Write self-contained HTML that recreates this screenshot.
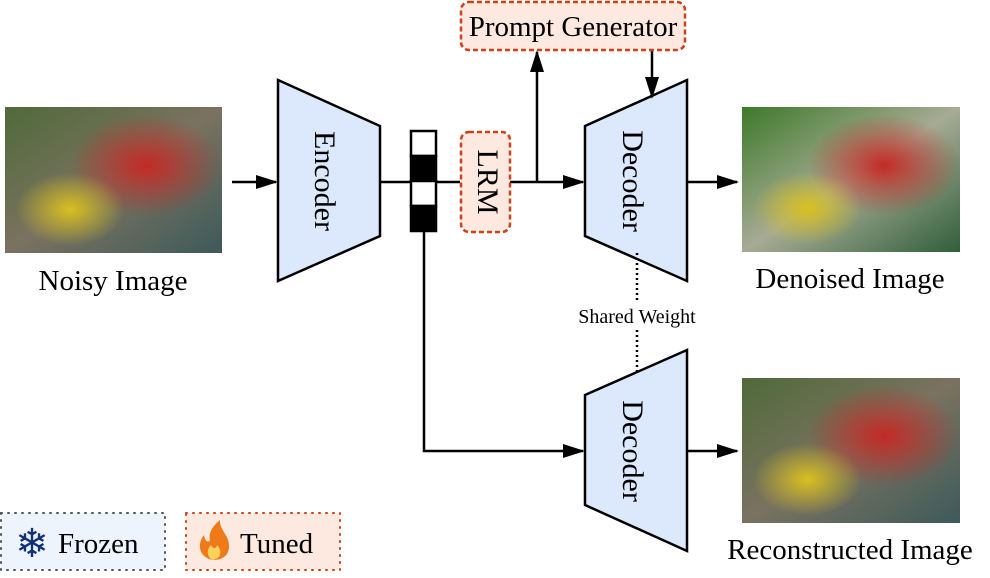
<!DOCTYPE html>
<html><head><meta charset="utf-8"><style>
body{margin:0;background:#fff;width:990px;height:573px;overflow:hidden;font-family:"Liberation Serif",serif}
</style></head><body>
<svg width="990" height="573" viewBox="0 0 990 573" xmlns="http://www.w3.org/2000/svg">
<defs>
<marker id="b" markerWidth="22" markerHeight="14" refX="20" refY="7" orient="auto" markerUnits="userSpaceOnUse"><path d="M0,0 L22,7 L0,14 Z" fill="#000"/></marker>
<radialGradient id="r1" cx="0.65" cy="0.4" r="0.35"><stop offset="0" stop-color="#c42a26"/><stop offset="1" stop-color="#c42a26" stop-opacity="0"/></radialGradient>
<radialGradient id="y1" cx="0.3" cy="0.7" r="0.25"><stop offset="0" stop-color="#d8c020"/><stop offset="1" stop-color="#d8c020" stop-opacity="0"/></radialGradient>
<linearGradient id="bg1" x1="0" y1="0" x2="1" y2="1"><stop offset="0" stop-color="#4f6a3a"/><stop offset="0.5" stop-color="#7a7260"/><stop offset="1" stop-color="#3d5a5a"/></linearGradient>
<linearGradient id="bg2" x1="0" y1="0" x2="1" y2="1"><stop offset="0" stop-color="#3c7a2a"/><stop offset="0.5" stop-color="#a7ab94"/><stop offset="1" stop-color="#2f5f3a"/></linearGradient>
</defs>
<g>
<rect x="5" y="107" width="217" height="146" fill="url(#bg1)"/>
<rect x="5" y="107" width="217" height="146" fill="url(#r1)"/>
<rect x="5" y="107" width="217" height="146" fill="url(#y1)"/>
<rect x="742" y="107" width="218" height="145" fill="url(#bg2)"/>
<rect x="742" y="107" width="218" height="145" fill="url(#r1)"/>
<rect x="742" y="107" width="218" height="145" fill="url(#y1)"/>
<rect x="742" y="378" width="218" height="145" fill="url(#bg1)"/>
<rect x="742" y="378" width="218" height="145" fill="url(#r1)"/>
<rect x="742" y="378" width="218" height="145" fill="url(#y1)"/>
</g>
<g font-size="29" text-anchor="middle" fill="#000">
<text x="113" y="290">Noisy Image</text>
<text x="850" y="288">Denoised Image</text>
<text x="850" y="559">Reconstructed Image</text>
</g>
<polygon points="278,80 380,126 380,236 278,281" fill="#dce8fb" stroke="#000" stroke-width="2.5"/>
<text transform="translate(322,181) rotate(90)" font-size="30" text-anchor="middle" dominant-baseline="middle">Encoder</text>
<polygon points="585,126 687,80 687,281 585,236" fill="#dce8fb" stroke="#000" stroke-width="2.5"/>
<text transform="translate(630,181) rotate(90)" font-size="30" text-anchor="middle" dominant-baseline="middle">Decoder</text>
<polygon points="585,395 687,350 687,551 585,505" fill="#dce8fb" stroke="#000" stroke-width="2.5"/>
<text transform="translate(630,451) rotate(90)" font-size="30" text-anchor="middle" dominant-baseline="middle">Decoder</text>
<g stroke="#000" stroke-width="2.5" fill="none">
<line x1="232" y1="182" x2="276" y2="182" marker-end="url(#b)"/>
<line x1="380" y1="182" x2="460" y2="182"/>
<line x1="510" y1="182" x2="583" y2="182" marker-end="url(#b)"/>
<line x1="537" y1="182" x2="537" y2="52" marker-end="url(#b)"/>
<line x1="652" y1="50" x2="652" y2="97" marker-end="url(#b)"/>
<line x1="687" y1="182" x2="737" y2="182" marker-end="url(#b)"/>
<polyline points="424,232 424,451 583,451" marker-end="url(#b)"/>
<line x1="687" y1="451" x2="737" y2="451" marker-end="url(#b)"/>
<line x1="637" y1="253" x2="637" y2="302" stroke-dasharray="2,3"/>
<line x1="637" y1="330" x2="637" y2="375" stroke-dasharray="2,3"/>
</g>
<text x="637" y="323" font-size="20" text-anchor="middle">Shared Weight</text>
<rect x="411" y="131" width="25" height="25" fill="#fff" stroke="#000" stroke-width="2.5"/>
<rect x="411" y="156" width="25" height="25" fill="#000" stroke="#000" stroke-width="2.5"/>
<rect x="411" y="181" width="25" height="25" fill="#fff" stroke="#000" stroke-width="2.5"/>
<rect x="411" y="206" width="25" height="25" fill="#000" stroke="#000" stroke-width="2.5"/>
<rect x="461" y="132" width="49" height="100" rx="8" fill="#fde9e0" stroke="#c8431a" stroke-width="2.5" stroke-dasharray="5,3"/>
<text transform="translate(485,182) rotate(90)" font-size="30" text-anchor="middle" dominant-baseline="middle">LRM</text>
<rect x="461" y="2" width="224" height="48" rx="8" fill="#fde9e0" stroke="#c8431a" stroke-width="2.5" stroke-dasharray="5,3"/>
<text x="573" y="36" font-size="29" text-anchor="middle">Prompt Generator</text>
<rect x="1" y="513" width="164" height="57" fill="#edf4fe" stroke="#555" stroke-width="2" stroke-dasharray="1,6" stroke-linecap="round"/>
<text x="32" y="557" font-size="40" text-anchor="middle" fill="#12307a">❄</text>
<text x="58" y="553" font-size="29">Frozen</text>
<rect x="186" y="513" width="154" height="57" fill="#fde9e0" stroke="#c8431a" stroke-width="2" stroke-dasharray="1,6" stroke-linecap="round"/>
<path d="M213,560 C200,558 196,545 204,535 C205,542 209,543 210,540 C208,532 214,525 220,520 C219,530 230,535 229,548 C228,556 222,560 213,560 Z" fill="#f07a1a"/>
<path d="M213,560 C207,558 206,550 211,545 C213,550 217,548 217,545 C222,550 222,558 213,560 Z" fill="#fcd25a"/>
<text x="240" y="553" font-size="29">Tuned</text>
</svg>
</body></html>
